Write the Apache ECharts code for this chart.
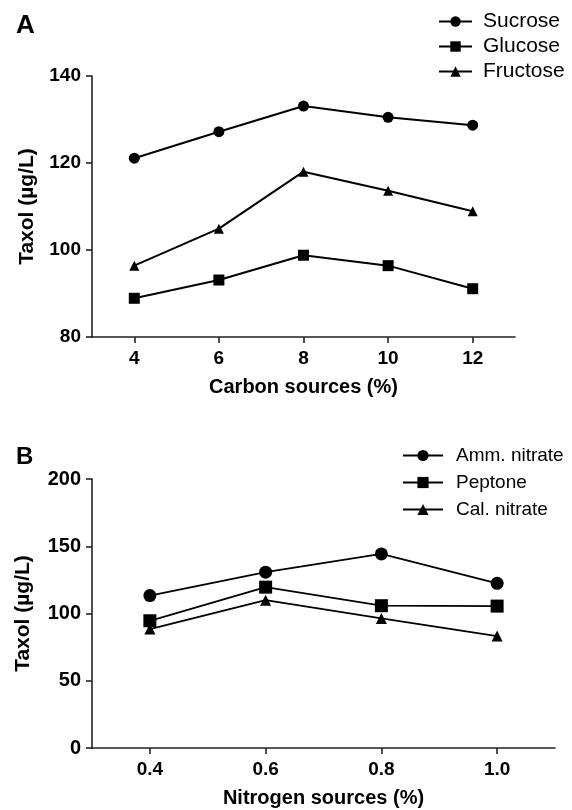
<!DOCTYPE html>
<html>
<head>
<meta charset="utf-8">
<script src="https://cdn.jsdelivr.net/npm/echarts@6/dist/echarts.min.js"></script>
<style>
  html, body { margin: 0; padding: 0; background: #fff; }
  #chart { width: 572px; height: 810px; }
</style>
</head>
<body>
<div id="chart"></div>
<script>
// panel A: carbon sources
const carbonLevels = ["4", "6", "8", "10", "12"];
const sucrose = [121.1, 127.2, 133.1, 130.5, 128.7];
const glucose = [88.9, 93.1, 98.8, 96.4, 91.1];
const fructose = [96.4, 104.9, 118.0, 113.6, 108.9];

// panel B: nitrogen sources
const nitrogenLevels = ["0.4", "0.6", "0.8", "1.0"];
const ammNitrate = [113.3, 130.7, 144.3, 122.4];
const peptone = [94.6, 119.6, 105.8, 105.5];
const calNitrate = [88.4, 109.9, 96.3, 83.2];

const FONT = "'Liberation Sans', Arial, sans-serif";
const INK = "#000";
const AXIS = "#222";

function valueAxis(gridIndex, min, max, interval, fontSize, nameGap) {
  return {
    type: "value",
    gridIndex,
    min,
    max,
    interval,
    name: "Taxol (\u00b5g/L)",
    nameLocation: "middle",
    nameGap,
    nameTextStyle: { fontFamily: FONT, fontWeight: "bold", fontSize: 21, color: INK },
    axisLine: { show: true, lineStyle: { color: AXIS, width: 1.6 } },
    axisTick: { show: true, length: 6, lineStyle: { color: AXIS, width: 1.6 } },
    axisLabel: { margin: 11, fontFamily: FONT, fontWeight: "bold", fontSize, color: INK },
    splitLine: { show: false },
  };
}

function categoryAxis(gridIndex, data, name, fontSize) {
  return {
    type: "category",
    gridIndex,
    data,
    boundaryGap: true,
    name,
    nameLocation: "middle",
    nameGap: 40,
    nameTextStyle: { fontFamily: FONT, fontWeight: "bold", fontSize: 20, color: INK },
    axisLine: { show: true, lineStyle: { color: AXIS, width: 1.6 } },
    axisTick: { show: true, alignWithLabel: true, length: 6, lineStyle: { color: AXIS, width: 1.6 } },
    axisLabel: { margin: 12, fontFamily: FONT, fontWeight: "bold", fontSize, color: INK },
    splitLine: { show: false },
  };
}

function lineSeries(name, data, symbol, size, axisIndex, width) {
  return {
    name,
    type: "line",
    xAxisIndex: axisIndex,
    yAxisIndex: axisIndex,
    data,
    symbol,
    symbolSize: size,
    lineStyle: { color: INK, width },
    itemStyle: { color: INK },
    emphasis: { disabled: true },
  };
}

const chart = echarts.init(document.getElementById("chart"), null, { renderer: "canvas" });
chart.setOption({
  animation: false,
  backgroundColor: "#fff",
  title: [
    { text: "A", left: 11, top: 8, textStyle: { fontFamily: FONT, fontWeight: "bold", fontSize: 26, color: INK } },
    { text: "B", left: 11, top: 440, textStyle: { fontFamily: FONT, fontWeight: "bold", fontSize: 24, color: INK } },
  ],
  legend: [
    {
      data: ["Sucrose", "Glucose", "Fructose"],
      orient: "vertical",
      left: 433,
      top: 6,
      itemWidth: 33,
      itemHeight: 13,
      itemGap: 4,
      selectedMode: false,
      textStyle: { fontFamily: FONT, fontSize: 21, color: INK, lineHeight: 21, padding: [0, 0, 0, 6] },
    },
    {
      data: ["Amm. nitrate", "Peptone", "Cal. nitrate"],
      orient: "vertical",
      left: 397,
      top: 440,
      itemWidth: 40,
      itemHeight: 14,
      itemGap: 6,
      selectedMode: false,
      textStyle: { fontFamily: FONT, fontSize: 19, color: INK, lineHeight: 21, padding: [0, 0, 0, 8] },
    },
  ],
  grid: [
    { left: 92, top: 76, width: 423, height: 261, containLabel: false },
    { left: 92, top: 479, width: 463, height: 269, containLabel: false },
  ],
  xAxis: [
    categoryAxis(0, carbonLevels, "Carbon sources (%)", 19),
    categoryAxis(1, nitrogenLevels, "Nitrogen sources (%)", 19),
  ],
  yAxis: [
    valueAxis(0, 80, 140, 20, 19, 54),
    valueAxis(1, 0, 200, 50, 20, 58),
  ],
  series: [
    lineSeries("Sucrose", sucrose, "circle", 11, 0, 2),
    lineSeries("Glucose", glucose, "rect", 11, 0, 2),
    lineSeries("Fructose", fructose, "triangle", 10, 0, 2),
    lineSeries("Amm. nitrate", ammNitrate, "circle", 13, 1, 1.8),
    lineSeries("Peptone", peptone, "rect", 13, 1, 1.8),
    lineSeries("Cal. nitrate", calNitrate, "triangle", 11, 1, 1.8),
  ],
});
</script>
</body>
</html>
